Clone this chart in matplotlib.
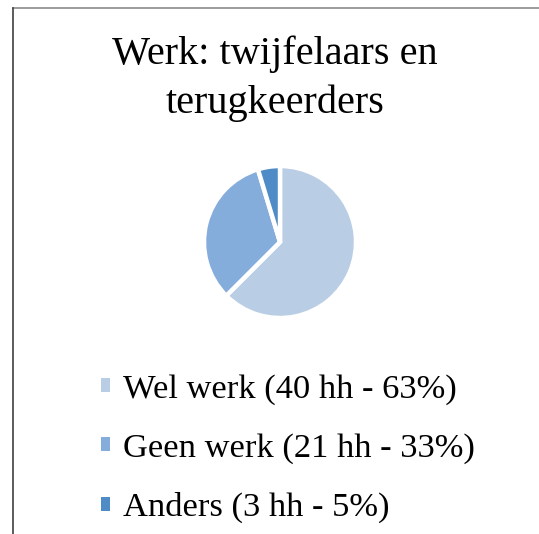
import matplotlib.pyplot as plt
from matplotlib.lines import Line2D

# data
labels = ["Wel werk (40 hh - 63%)", "Geen werk (21 hh - 33%)", "Anders (3 hh - 5%)"]
counts = [40, 21, 3]
colors = ["#B9CDE5", "#85ADDB", "#4F8BC6"]

plt.rcParams['font.family'] = ['Liberation Serif', 'DejaVu Serif']

W, H = 539, 534
fig = plt.figure(figsize=(W / 100, H / 100), dpi=100)
fig.patch.set_facecolor("white")

# chart frame: only top and left edges are visible
fig.add_artist(Line2D([13 / W, 1], [1 - 7.5 / H, 1 - 7.5 / H], color="#8a8a8a", lw=1.2))
fig.add_artist(Line2D([13 / W, 13 / W], [0, 1 - 7.5 / H], color="#404040", lw=1.2))

fig.text(275 / W, 1 - 79 / H, "Werk: twijfelaars en\nterugkeerders",
         ha="center", va="center", fontsize=29, linespacing=1.4)

# pie
cx, cy, r = 280, 242, 76
ax = fig.add_axes([(cx - r) / W, (H - cy - r) / H, 2 * r / W, 2 * r / H])
wedges, _ = ax.pie(counts, colors=colors, startangle=90, counterclock=False,
                   wedgeprops=dict(edgecolor="white", linewidth=3.2))
ax.set_xlim(-1, 1)
ax.set_ylim(-1, 1)
ax.set_aspect("equal")
ax.axis("off")

leg = fig.legend(wedges, labels, loc="upper left", bbox_to_anchor=(101 / W, 1 - 374 / H),
                 frameon=False, fontsize=24.8, borderpad=0, borderaxespad=0,
                 handlelength=0.26, handleheight=0.26, handletextpad=0.38,
                 labelspacing=0.82)
for h in leg.legend_handles:
    h.set_edgecolor("none")

fig.savefig("out.png", dpi=100)
